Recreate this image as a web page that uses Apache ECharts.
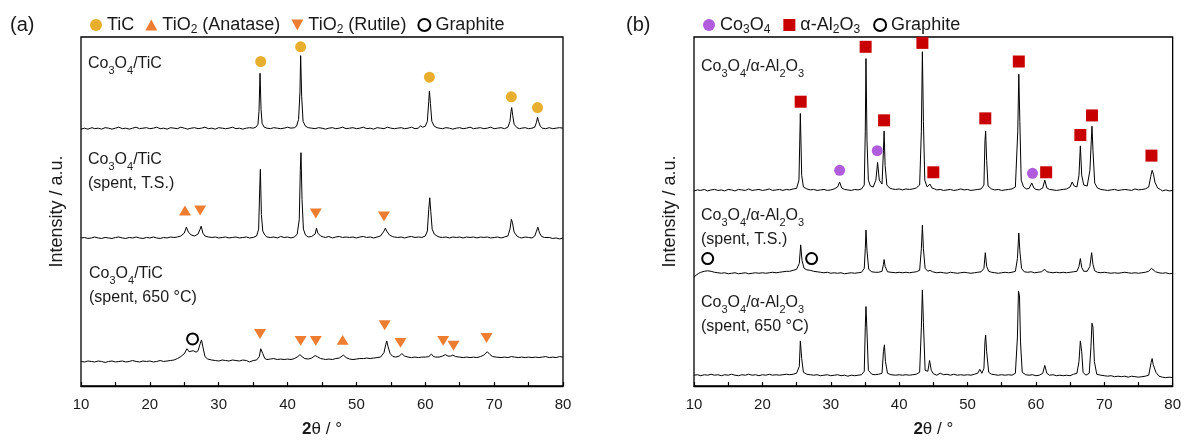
<!DOCTYPE html>
<html><head><meta charset="utf-8">
<script src="https://cdn.jsdelivr.net/npm/echarts@6/dist/echarts.min.js"></script>
<style>html,body{margin:0;padding:0;background:#fff}#c{width:1184px;height:443px}</style>
</head><body><div id="c"></div><script>
// ---- data (2θ in degrees, intensity in arbitrary units; flat lists of x,y pairs) ----
const xMin = 10, xMax = 80, xTickStep = 10;

const traceA1 = [10,262, 10.5,263, 11,262, 11.6,263.5, 12,262.5, 12.5,263, 13,262, 13.5,263.5, 14,263, 14.5,262, 15,263, 15.5,264, 16,262.5, 16.5,263, 17,262, 17.5,263, 18,264, 18.5,262.5, 19,263, 19.5,263.5, 20,262.5, 20.5,263, 21,264, 21.5,262.5, 22,263, 22.5,262, 23,263.5, 23.5,263, 24,262.5, 24.5,264, 25,263, 25.5,262, 26,263, 26.5,263.5, 27,262.5, 27.5,263, 28,264, 28.5,262.5, 29,263, 29.5,262, 30,263.5, 30.5,263, 31,262.5, 31.5,263, 32,264, 32.5,262.5, 33,263, 33.5,262, 34,263, 34.5,263.5, 35,263, 35.4,264, 35.7,267, 35.85,280, 36.0,319, 36.15,282, 36.3,268, 36.6,264, 37,263, 37.5,262.5, 38,263.5, 38.5,263, 39,262.5, 39.5,263, 40,264, 40.5,263, 41,263.5, 41.3,265, 41.6,272, 41.8,300, 41.9,337, 42.05,295, 42.25,270, 42.6,265, 43,263.5, 43.5,263, 44,262.5, 44.5,263.5, 45,263, 45.5,262, 46,263, 46.5,263.5, 47,262.5, 47.5,263, 48,264, 48.5,262.5, 49,263, 49.5,263.5, 50,262.5, 50.5,263, 51,264, 51.5,262.5, 52,263, 52.5,262, 53,263.5, 53.5,263, 54,262.5, 54.5,264, 55,263, 55.5,262.5, 56,263, 56.5,263.5, 57,262.5, 57.5,263, 58,264, 58.5,262.5, 59,263, 59.3,265.5, 59.6,264, 60,265, 60.3,270, 60.5,290, 60.6,301, 60.75,288, 60.95,270, 61.3,265, 61.7,263.5, 62,263, 62.5,262.5, 63,263.5, 63.5,263, 64,262, 64.5,263, 65,263.5, 65.5,262.5, 66,263, 66.5,264, 67,262.5, 67.5,263, 68,263.5, 68.5,262.5, 69,263, 69.5,264, 70,262.5, 70.5,263, 71,263.5, 71.5,262.5, 72,264, 72.3,270, 72.45,280, 72.55,284, 72.7,276, 72.9,267, 73.3,263.5, 73.7,262.5, 74,263, 74.5,263.5, 75,262.5, 75.5,263, 75.9,264, 76.15,269, 76.3,274, 76.45,270, 76.7,265, 77,263, 77.5,262.5, 78,263.5, 78.5,262.5, 79,263, 79.5,263.5, 80,263];

const traceA2 = [10,151, 10.5,151.5, 11,150.5, 11.5,151, 12,152, 12.5,151, 13,150.5, 13.5,151.5, 14,151, 14.5,150.5, 15,151.5, 15.5,152, 16,151, 16.5,150.5, 17,151.5, 17.5,151, 18,152, 18.5,151, 19,150.5, 19.5,151.5, 20,151, 20.5,152, 21,151, 21.5,150.5, 22,151.5, 22.5,151, 23,152, 23.5,151.5, 24,152, 24.5,153, 25,156, 25.3,162, 25.6,157, 26,154, 26.5,153, 27,155, 27.3,160, 27.45,163, 27.7,156, 28,153, 28.5,152, 29,151.5, 29.5,152, 30,151, 30.5,151.5, 31,152, 31.5,151, 32,151.5, 32.5,152, 33,151, 33.5,151.5, 34,152, 34.5,151, 35,151.5, 35.5,153, 35.8,160, 35.95,200, 36.05,221, 36.2,175, 36.4,158, 36.7,154, 37,152, 37.5,151.5, 38,152, 38.5,151, 39,152.5, 39.5,151.5, 40,152, 40.5,151, 41,152, 41.4,155, 41.7,170, 41.85,220, 41.95,238, 42.1,190, 42.3,160, 42.6,154, 43,152, 43.5,152.5, 44,155, 44.2,161, 44.4,156, 44.8,153, 45.2,152, 45.5,151.5, 46,152.5, 46.5,151, 47,152, 47.5,152.5, 48,151.5, 48.5,152, 49,151.5, 49.5,152, 50,151, 50.5,152, 51,152.5, 51.5,151.5, 52,152, 52.5,151, 53,152, 53.5,153, 54,158, 54.2,161, 54.4,158, 54.8,154, 55.2,152.5, 55.5,152, 56,151.5, 56.5,152, 57,151, 57.5,152, 58,152.5, 58.5,151.5, 59,152, 59.5,151.5, 60,153, 60.3,158, 60.5,180, 60.65,192, 60.8,178, 61,160, 61.3,155, 61.7,153, 62,152, 62.5,151.5, 63,152, 63.5,151, 64,152, 64.5,151.5, 65,152, 65.5,151, 66,152, 66.5,151.5, 67,152, 67.5,151, 68,152, 68.5,151.5, 69,152, 69.5,151, 70,151.5, 70.5,152, 71,151, 71.5,152, 72,153, 72.3,160, 72.5,170, 72.65,167, 72.9,157, 73.3,153, 73.7,151.5, 74,151, 74.5,152, 75,151.5, 75.5,151, 75.9,153, 76.15,158, 76.35,162, 76.6,156, 76.9,152.5, 77.3,151.5, 77.5,151, 78,151.5, 78.5,150.5, 79,151, 79.5,150, 80,151];

const traceA3 = [10,25, 10.5,24.5, 11,25.5, 11.5,25, 12,24.5, 12.5,25.5, 13,25, 13.5,24, 14,25, 14.5,25.5, 15,24.5, 15.5,25, 16,25.5, 16.5,24.5, 17,25, 17.5,26, 18,25, 18.5,24.5, 19,25.5, 19.5,25, 20,25.5, 20.5,24.5, 21,25, 21.5,26, 22,25, 22.5,25.5, 23,26, 23.5,26.5, 24,28, 24.5,30, 25,33, 25.4,38, 25.7,35, 26,35.5, 26.3,36, 26.7,34.5, 27,36, 27.3,43, 27.5,47, 27.7,40, 28,30, 28.4,27.5, 29,26.5, 29.5,26, 30,25.5, 30.5,26.5, 31,26, 31.5,25.5, 32,26.5, 32.5,26, 33,25.5, 33.5,26.5, 34,26, 34.5,24.5, 35,26, 35.5,26.5, 35.9,30, 36.1,38, 36.2,40, 36.4,33, 36.7,28, 37,27, 37.5,27.5, 38,28, 38.5,27, 39,27.5, 39.5,27, 40,27.5, 40.5,27, 41,28, 41.5,30, 41.8,32, 42.1,30, 42.5,28, 43,27.5, 43.5,28.5, 44,31, 44.3,30, 44.8,28, 45.2,27.5, 45.5,27, 46,27.5, 46.5,27, 47,28, 47.5,28.5, 48.1,31.5, 48.5,29, 49,27.5, 49.5,27, 50,27.5, 50.5,28, 51,28, 51.5,28.5, 52,28, 52.5,28.5, 53,29, 53.5,29.5, 54,34, 54.25,42, 54.4,46, 54.6,40, 54.9,33, 55.3,30, 55.7,29.5, 56.2,30.5, 56.6,33, 57,30.5, 57.5,29.5, 58,29, 58.5,29.5, 59,29, 59.5,29.5, 60,29.5, 60.5,30, 60.9,32.5, 61.2,30, 61.5,29.5, 62,29.5, 62.5,30.5, 62.9,32, 63.3,30.5, 63.7,30.5, 64.0,31.5, 64.4,30, 65,29.5, 65.5,29, 66,29.5, 66.5,29, 67,29.5, 67.5,29, 68,30, 68.5,31.5, 69,35, 69.4,32, 69.8,30, 70.3,29.5, 71,29, 71.5,29.5, 72,29, 72.5,30, 73,29.5, 73.5,29, 74,29.5, 74.5,29, 75,29.5, 75.5,29, 76,29.5, 76.5,29, 77,29.5, 77.5,30, 78,29, 78.5,29.5, 79,29, 79.5,30, 80,29.5];

const traceB1 = [10,199, 10.5,200, 11,199.5, 11.5,200.5, 12,199, 12.5,200, 13,200.5, 13.5,199.5, 14,200, 14.5,199, 15,200.5, 15.5,200, 16,199, 16.5,200.5, 17,200, 17.5,199.5, 18,201, 18.5,199.5, 19,200, 19.5,200.5, 20,199.5, 20.5,200, 21,201, 21.5,199.5, 22,200, 22.5,200.5, 23,199.5, 23.5,200.5, 24,200, 24.5,201, 25,201.5, 25.35,210, 25.55,278, 25.75,215, 26,203, 26.5,201, 27,200, 27.5,200.5, 28,199.5, 28.5,200, 29,200.5, 29.5,199.5, 30,200, 30.5,201, 31,203, 31.3,208, 31.6,202, 32,200.5, 32.5,200, 33,199.5, 33.5,200.5, 34,200, 34.5,201, 34.9,205, 35.05,260, 35.15,334, 35.3,250, 35.5,210, 35.8,204, 36.2,203, 36.6,210, 36.85,228, 37.1,210, 37.5,206, 37.7,240, 37.8,260, 37.95,225, 38.2,205, 38.6,202, 39,201, 39.5,200.5, 40,201, 40.5,200, 41,201, 41.5,200.5, 42,201, 42.5,202, 43,205, 43.25,260, 43.4,341, 43.55,270, 43.75,210, 44.1,203, 44.5,206, 44.8,202, 45.2,201, 45.5,200, 46,200.5, 46.5,199.5, 47,200, 47.5,200.5, 48,199.5, 48.5,200, 49,201, 49.5,200, 50,200.5, 50.5,199.5, 51,200, 51.5,200.5, 52,201, 52.4,205, 52.55,250, 52.65,260, 52.8,230, 53,204, 53.5,201, 54,200, 54.5,200.5, 55,199.5, 55.5,200, 56,200.5, 56.5,201, 57,203, 57.35,260, 57.5,318, 57.65,270, 57.85,210, 58.2,203, 58.6,201, 59,201.5, 59.4,207, 59.7,202, 60,200.5, 60.5,200, 61,202, 61.3,210, 61.6,202, 62,200.5, 62.5,200, 63,199.5, 63.5,200, 64,200.5, 64.5,201, 65,203, 65.3,208, 65.6,204, 66,203, 66.3,215, 66.5,245, 66.7,215, 67,205, 67.5,204, 67.9,220, 68.1,250, 68.2,265, 68.35,240, 68.6,207, 69,202, 69.5,200.5, 70,200, 70.5,199.5, 71,200, 71.5,200.5, 72,199.5, 72.5,200, 73,200.5, 73.5,200, 74,199.5, 74.5,201, 75,200, 75.5,200.5, 76,201, 76.5,203, 76.8,214, 77.0,220, 77.2,216, 77.4,208, 77.8,202, 78.2,200.5, 78.5,199, 79,200, 79.5,199, 80,199.5];

const traceB2 = [10,111, 10.3,113, 10.7,115, 11,116, 11.5,117, 12,117.5, 12.5,117, 13,116, 13.5,115.5, 14,115, 14.5,115.5, 15,114.5, 15.5,115, 16,115.5, 16.5,114.5, 17,115, 17.5,115.5, 18,114.5, 18.5,115, 19,115.5, 19.5,115, 20,115.5, 20.5,115, 21,115.5, 21.5,116, 22,115.5, 22.5,116, 23,116.5, 23.5,117, 24,117, 24.5,118, 25,119, 25.4,125, 25.6,144, 25.8,128, 26.1,120, 26.5,118.5, 27,118, 27.5,117, 28,116.5, 28.5,116, 29,115.5, 29.5,116, 30,115, 30.5,115.5, 31,115, 31.5,115.5, 32,114.5, 32.5,115, 33,115.5, 33.5,115, 34,115.5, 34.5,116, 34.9,120, 35.05,140, 35.15,159, 35.3,138, 35.55,119, 36,116.5, 36.5,116, 37,116, 37.5,117, 37.7,124, 37.8,129, 37.95,122, 38.3,116.5, 38.8,116, 39.5,115.5, 40,116, 40.5,115.5, 41,116, 41.5,115.5, 42,116, 42.5,116.5, 43,118, 43.25,140, 43.4,164, 43.55,140, 43.8,120, 44.2,117, 44.5,118, 44.9,116.5, 45.5,115.5, 46,116, 46.5,115.5, 47,115, 47.5,116, 48,115.5, 48.5,115, 49,115.5, 49.5,116, 50,115.5, 50.5,115, 51,115.5, 51.5,116, 52,116.5, 52.4,120, 52.6,136, 52.8,122, 53.1,117, 53.5,116, 54,115.5, 54.5,115, 55,115.5, 55.5,116, 56,115.5, 56.5,116, 57,117, 57.3,130, 57.5,156, 57.65,138, 57.9,120, 58.3,116.5, 58.8,116, 59.3,116.5, 59.8,115.5, 60.3,116, 60.8,116.5, 61.3,119, 61.6,116.5, 62,116, 62.5,115.5, 63,116, 63.5,115.5, 64,116, 64.5,115.5, 65,116, 65.5,116.5, 66,117, 66.3,122, 66.5,130, 66.7,121, 67,117, 67.5,117, 67.9,122, 68.15,136, 68.35,124, 68.6,117.5, 69,116, 69.5,115.5, 70,116, 70.5,115.5, 71,115, 71.5,115.5, 72,115, 72.5,115.5, 73,116, 73.5,115.5, 74,115, 74.5,115.5, 75,115, 75.5,115.5, 76,116, 76.5,117, 76.9,120, 77.1,119, 77.5,116.5, 78,115.5, 78.5,115, 79,115.5, 79.5,114.5, 80,115];

const traceB3 = [10,11, 10.5,11.5, 11,10.5, 11.5,11.5, 12,11, 12.5,12, 13,11, 13.5,11.5, 14,10.5, 14.5,11.5, 15,11, 15.5,12, 16,11, 16.5,10.5, 17,11.5, 17.5,11, 18,12, 18.5,11, 19,11.5, 19.5,10.5, 20,11.5, 20.5,11, 21,12, 21.5,11, 22,11.5, 22.5,11, 23,11.5, 23.5,12, 24,11.5, 24.5,12, 25,13, 25.4,20, 25.55,46, 25.75,28, 26,14, 26.5,12, 27,11.5, 27.5,11, 28,11.5, 28.5,10.5, 29,11, 29.5,11.5, 30,10.5, 30.5,11, 31,11.5, 31.5,10.5, 32,11, 32.5,10, 33,11, 33.5,10.5, 34,11, 34.5,11.5, 34.9,15, 35.05,60, 35.15,81, 35.3,55, 35.5,16, 36,12, 36.5,11.5, 37,12, 37.5,13, 37.7,35, 37.85,42, 38,25, 38.3,13, 38.8,11.5, 39.5,11, 40,11.5, 40.5,11, 41,11.5, 41.5,11, 42,11.5, 42.5,12, 43,14, 43.25,60, 43.4,98, 43.55,65, 43.8,16, 44.2,15, 44.45,26, 44.7,16, 45,12.5, 45.5,11, 46,13, 46.5,11.5, 47,12, 47.5,11, 48,12, 48.5,11, 49,11.5, 49.5,11, 50,11.5, 50.5,11, 51,12, 51.5,13, 51.8,17, 52.1,13, 52.4,18, 52.55,45, 52.65,52, 52.8,35, 53.1,14, 53.5,12, 54,11.5, 54.5,11, 55,11.5, 55.5,11, 56,11.5, 56.5,11, 57,13, 57.3,50, 57.45,97, 57.6,92, 57.75,45, 58,14, 58.5,11.5, 59,11, 59.5,11.5, 60,10.5, 60.5,11, 61,13, 61.3,21, 61.6,13, 62,11, 62.5,11.5, 63,10.5, 63.5,11, 64,10.5, 64.5,11, 65,10.5, 65.5,12, 66,13, 66.3,25, 66.5,46, 66.7,35, 66.9,14, 67.3,11, 67.8,13, 68.05,40, 68.2,64, 68.35,60, 68.55,25, 68.9,12, 69.5,11, 70,10.5, 70.5,10, 71,10.5, 71.5,9.5, 72,10, 72.5,9.5, 73,10, 73.5,9, 74,10, 74.5,9.5, 75,9, 75.5,9.5, 76,10, 76.5,11, 76.85,24, 77.0,28, 77.15,22, 77.3,24, 77.55,14, 78,10, 78.5,9, 79,8.5, 79.5,9, 80,8.5];

// phase markers [2θ, level]
const ticMarksA      = [[36.1,331],[41.9,346],[60.6,315],[72.5,295],[76.3,284]];
const anataseMarksA  = [[25.1,179],[48.0,47]];
const rutileMarksA   = [[27.3,179],[44.1,176],[54.0,173],[36.0,53],[41.9,46],[44.1,46],[54.1,62],[56.4,44],[62.6,46],[64.1,41],[68.9,49]];
const graphiteMarksA = [[26.2,48]];
const co3o4MarksB    = [[31.3,220],[36.8,240],[59.5,217]];
const aluminaMarksB  = [[25.6,290],[35.1,346],[37.8,271],[43.4,350],[45.0,218],[52.6,273],[57.5,331],[61.5,218],[66.5,256],[68.2,276],[76.9,235]];
const graphiteMarksB = [[12.0,130],[27.2,130]];

// texts
const sampleLabelsA = ['{m|Co}{s|3}{m|O}{s|4}{m|/TiC}', '{m|Co}{s|3}{m|O}{s|4}{m|/TiC}\n{m|(spent, T.S.)}', '{m|Co}{s|3}{m|O}{s|4}{m|/TiC}\n{m|(spent, 650 °C)}'];
const sampleLabelsB = ['{m|Co}{s|3}{m|O}{s|4}{m|/α-Al}{s|2}{m|O}{s|3}', '{m|Co}{s|3}{m|O}{s|4}{m|/α-Al}{s|2}{m|O}{s|3}\n{m|(spent, T.S.)}', '{m|Co}{s|3}{m|O}{s|4}{m|/α-Al}{s|2}{m|O}{s|3}\n{m|(spent, 650 °C)}'];
const legendTexts = {
  'TiC': '{m|TiC}', 'Anatase': '{m|TiO}{s|2}{m| (Anatase)}', 'Rutile': '{m|TiO}{s|2}{m| (Rutile)}', 'Graphite a': '{m|Graphite}',
  'Co3O4': '{m|Co}{s|3}{m|O}{s|4}', 'Alumina': '{m|α-Al}{s|2}{m|O}{s|3}', 'Graphite b': '{m|Graphite}'
};
const xName = '{b|2}{m|θ / °}';
const yName = 'Intensity / a.u.';

// ---- chart ----
const FONT = 'Liberation Sans, Arial, sans-serif';
const TXT = '#1a1a1a';
const pairs = a => { const r = []; for (let i = 0; i < a.length; i += 2) r.push([a[i], a[i+1]]); return r; };
const rich = {
  m: {fontSize: 16, lineHeight: 24, fontFamily: FONT, color: TXT},
  s: {fontSize: 11, lineHeight: 15, fontFamily: FONT, color: TXT, verticalAlign: 'bottom'}
};
const legRich = {
  m: {fontSize: 18, lineHeight: 22, fontFamily: FONT, color: TXT},
  s: {fontSize: 12, lineHeight: 13, fontFamily: FONT, color: TXT, verticalAlign: 'bottom'}
};
const DOWN = 'path://M0,0 L10,0 L5,9 Z';
const UP = 'path://M5,0 L10,9 L0,9 Z';

function lineSeries(idx, data) {
  return {type: 'line', xAxisIndex: idx, yAxisIndex: idx, data: pairs(data), showSymbol: false, symbol: 'none',
    lineStyle: {color: '#000', width: 1}, silent: true, z: 2};
}
function markSeries(idx, name, data, symbol, size, color, border) {
  return {type: 'scatter', name, xAxisIndex: idx, yAxisIndex: idx, data, symbol, symbolSize: size,
    symbolKeepAspect: true,
    itemStyle: border ? {color: '#fff', borderColor: '#000', borderWidth: 2, opacity: 1} : {color, borderWidth: 0, opacity: 1},
    z: 5, silent: true};
}
function xAx(idx) {
  return {gridIndex: idx, type: 'value', min: xMin, max: xMax, interval: xTickStep,
    axisLine: {show: true, lineStyle: {color: '#000', width: 1.3}},
    axisTick: {show: true, inside: true, length: 4, lineStyle: {color: '#000', width: 1.2}},
    minorTick: {show: true, splitNumber: 2, length: 4, lineStyle: {color: '#000', width: 1.2}},
    splitLine: {show: false},
    axisLabel: {fontSize: 15, fontFamily: FONT, color: TXT, margin: 11},
    name: xName, nameLocation: 'middle', nameGap: 35,
    nameTextStyle: {fontFamily: FONT, fontSize: 17, color: TXT,
      rich: {b: {fontWeight: 'bold', fontSize: 17, fontFamily: FONT, color: TXT}, m: {fontSize: 17, fontFamily: FONT, color: TXT}}}};
}
function yAx(idx) {
  return {gridIndex: idx, type: 'value', min: 0, max: 356, show: true,
    axisLine: {show: false}, axisTick: {show: false}, axisLabel: {show: false}, splitLine: {show: false},
    name: yName, nameLocation: 'middle', nameGap: 15,
    nameTextStyle: {fontFamily: FONT, fontSize: 18, color: TXT}};
}
function labelGraphic(x, y, text) {
  return {type: 'text', x, y, silent: true, style: {text, rich, font: '16px ' + FONT, fill: TXT, verticalAlign: 'top'}};
}

const chart = echarts.init(document.getElementById('c'), null, {renderer: 'canvas'});
chart.setOption({
  animation: false,
  backgroundColor: '#fff',
  grid: [
    {left: 81, top: 37, width: 482, height: 356, show: true, borderColor: '#000', borderWidth: 1.3, backgroundColor: 'transparent'},
    {left: 694, top: 37, width: 482, height: 356, show: true, borderColor: '#000', borderWidth: 1.3, backgroundColor: 'transparent'}
  ],
  xAxis: [xAx(0), xAx(1)],
  yAxis: [yAx(0), yAx(1)],
  legend: [
    {left: 85, top: 11, itemWidth: 12, itemHeight: 12, itemGap: 11, selectedMode: false,
      data: ['TiC', 'Anatase', 'Rutile', 'Graphite a'],
      formatter: n => legendTexts[n], textStyle: {rich: legRich, fontSize: 18, fontFamily: FONT, color: TXT}},
    {left: 698, top: 11, itemWidth: 12, itemHeight: 12, itemGap: 13, selectedMode: false,
      data: ['Co3O4', 'Alumina', 'Graphite b'],
      formatter: n => legendTexts[n], textStyle: {rich: legRich, fontSize: 18, fontFamily: FONT, color: TXT}}
  ],
  series: [
    lineSeries(0, traceA1), lineSeries(0, traceA2), lineSeries(0, traceA3),
    lineSeries(1, traceB1), lineSeries(1, traceB2), lineSeries(1, traceB3),
    markSeries(0, 'TiC', ticMarksA, 'circle', 11, '#E8AE2E'),
    markSeries(0, 'Anatase', anataseMarksA, UP, [12, 11], '#ED7D31'),
    markSeries(0, 'Rutile', rutileMarksA, DOWN, [12, 11], '#ED7D31'),
    markSeries(0, 'Graphite a', graphiteMarksA, 'circle', 11, '#fff', true),
    markSeries(1, 'Co3O4', co3o4MarksB, 'circle', 11, '#B05CDC'),
    markSeries(1, 'Alumina', aluminaMarksB, 'rect', 12, '#C80000'),
    markSeries(1, 'Graphite b', graphiteMarksB, 'circle', 11, '#fff', true)
  ],
  graphic: [
    {type: 'text', x: 10, y: 15, silent: true, style: {text: '(a)', font: '20px ' + FONT, fill: TXT}},
    {type: 'text', x: 626, y: 15, silent: true, style: {text: '(b)', font: '20px ' + FONT, fill: TXT}},
    labelGraphic(88, 52, sampleLabelsA[0]),
    labelGraphic(88, 148, sampleLabelsA[1]),
    labelGraphic(89, 262, sampleLabelsA[2]),
    labelGraphic(701, 55, sampleLabelsB[0]),
    labelGraphic(701, 204, sampleLabelsB[1]),
    labelGraphic(701, 291, sampleLabelsB[2])
  ]
});
</script></body></html>
